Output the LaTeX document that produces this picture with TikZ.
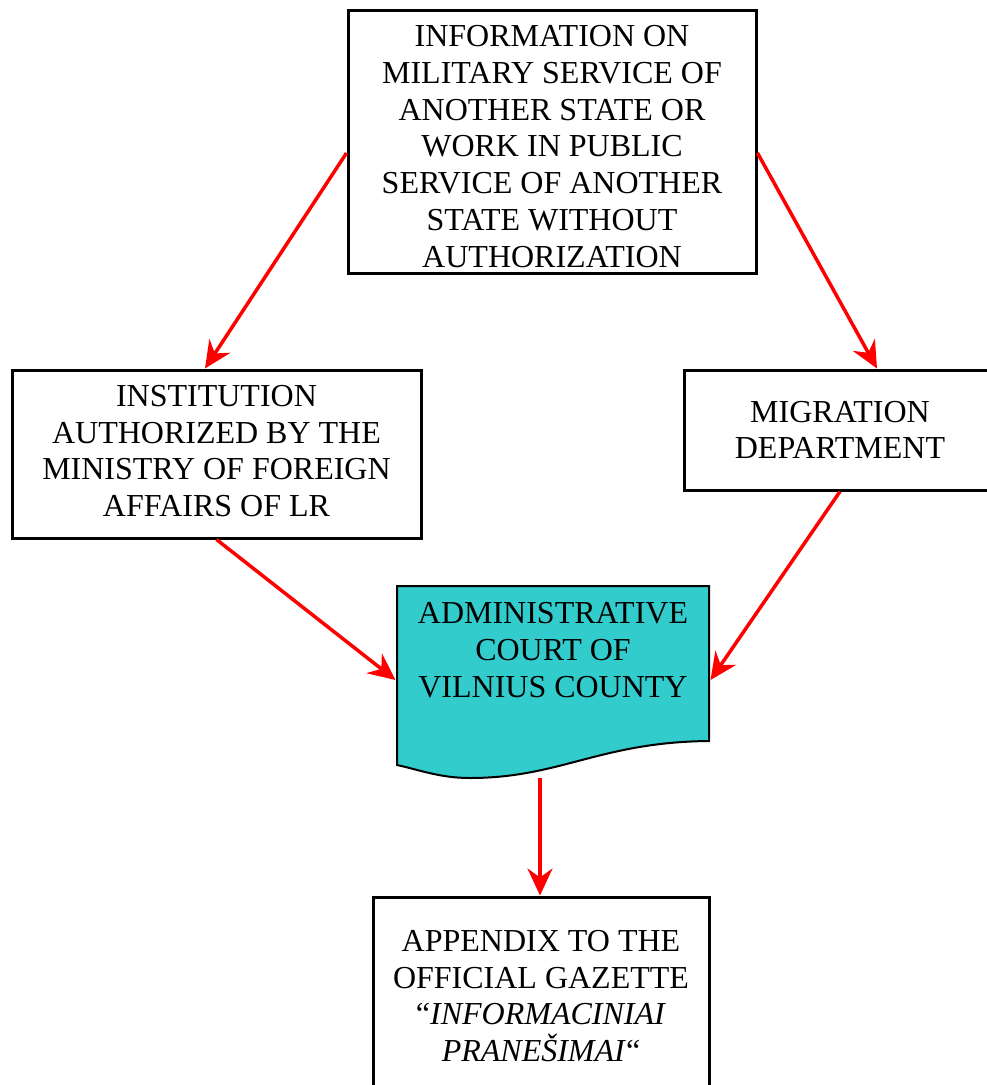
\documentclass[tikz,border=0pt]{standalone}
\usepackage{fontspec}
\setmainfont{Liberation Serif}
\usepackage{tikz}
\usetikzlibrary{arrows.meta}
\definecolor{courtcyan}{RGB}{51,204,204}

\begin{document}
\begin{tikzpicture}[x=1pt, y=-1pt,
  box/.style={draw, line width=3pt, rectangle, align=center, inner sep=0pt,
    font=\fontsize{32}{36.7}\selectfont},
  flow/.style={draw=red, line width=3.5pt,
    -{Stealth[length=27pt, width=25pt, inset=9pt]}}]
\clip (0,0) rectangle (987,1085);
% court document shape
\draw[fill=courtcyan, line width=2pt] (397,586) -- (709,586) -- (709,741)
  .. controls (600,742) and (560,778) .. (470,778)
  .. controls (440,778) and (420,770) .. (397,765) -- cycle;
\node[box, minimum width=408pt, minimum height=263pt, text height=251pt, text depth=0pt] (info) at (552,141.5)
  {INFORMATION ON\\MILITARY SERVICE OF\\ANOTHER STATE OR\\WORK IN PUBLIC\\SERVICE OF ANOTHER\\STATE WITHOUT\\AUTHORIZATION};
\node[box, minimum width=409pt, minimum height=168pt, text depth=6pt] (inst) at (216.5,454)
  {INSTITUTION\\AUTHORIZED BY THE\\MINISTRY OF FOREIGN\\AFFAIRS OF LR};
\node[box, minimum width=312pt, minimum height=120pt] (mig) at (840,430)
  {MIGRATION\\DEPARTMENT};
\node[box, draw=none, minimum width=312pt, minimum height=125pt] (court) at (553,650)
  {ADMINISTRATIVE\\COURT OF\\VILNIUS COUNTY};
\node[box, minimum width=336pt, minimum height=198pt] (gazette) at (541,996)
  {APPENDIX TO THE\\OFFICIAL GAZETTE\\“\textit{INFORMACINIAI}\\\textit{PRANEŠIMAI}“};
\coordinate (courtB) at (540,778);
\draw[flow] ([yshift=-11.5pt]info.west) -- ([xshift=-11.5pt]inst.north);
\draw[flow] ([yshift=-11.5pt]info.east) -- ([xshift=37pt]mig.north);
\draw[flow] (inst.south) -- ([yshift=-30pt]court.west);
\draw[flow] (mig.south) -- ([yshift=-30pt]court.east);
\draw[flow] (courtB) -- (courtB |- gazette.north);
\end{tikzpicture}
\end{document}
